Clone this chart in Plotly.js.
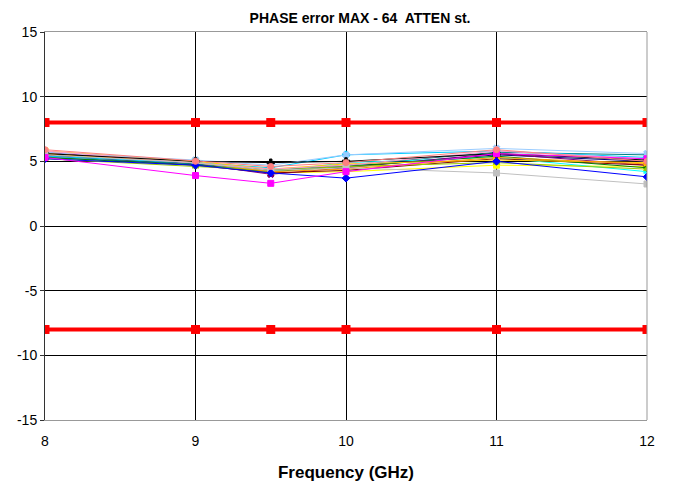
<!DOCTYPE html>
<html>
<head>
<meta charset="utf-8">
<script src="https://cdn.plot.ly/plotly-3.0.1.min.js"></script>
<style>html,body{margin:0;padding:0;background:#fff;}#chart{width:673px;height:483px;}</style>
</head>
<body>
<div id="chart"></div>
<script>
const freqs = [8, 9, 9.5, 10, 11, 12];
const xTickVals = [8, 9, 10, 11, 12];
const xTickText = ['8', '9', '10', '11', '12'];
const yTickVals = [-15, -10, -5, 0, 5, 10, 15];
const yTickText = ['-15', '-10', '-5', '0', '5', '10', '15'];
const limitUpper = [8, 8, 8, 8, 8, 8];
const limitLower = [-8, -8, -8, -8, -8, -8];

const sNavy      = [5.4, 4.9, 4.3, 4.6, 5.5, 5.0];
const sMagenta   = [5.3, 3.9, 3.3, 4.2, 5.6, 5.2];
const sYellow    = [5.6, 4.9, 4.1, 4.2, 4.7, 4.6];
const sCyan      = [5.5, 4.8, 4.2, 4.9, 5.3, 4.2];
const sPurple    = [5.7, 4.8, 4.0, 4.5, 5.6, 4.7];
const sMaroon    = [5.5, 4.7, 4.1, 4.3, 5.2, 4.7];
const sTeal      = [5.3, 4.8, 4.3, 4.7, 5.7, 5.5];
const sBlue      = [5.2, 4.7, 4.1, 3.7, 5.0, 3.8];
const sSky       = [5.4, 4.9, 4.5, 5.5, 5.8, 5.3];
const sBlack     = [5.6, 5.0, 4.9, 5.0, 5.6, 5.1];
const sGray      = [5.5, 4.9, 4.3, 4.5, 4.1, 3.25];
const sSalmon    = [5.9, 5.0, 4.6, 4.9, 5.9, 5.0];
const sGreen     = [5.3, 4.7, 4.2, 4.6, 5.4, 4.5];
const sGold      = [5.8, 5.0, 4.4, 4.8, 5.1, 4.9];
const sLime      = [5.2, 4.6, 4.3, 4.6, 4.9, 4.4];
const sLightBlue = [5.7, 5.1, 4.7, 5.5, 6.0, 5.6];
const sOrange    = [5.6, 4.9, 4.2, 4.4, 5.3, 4.8];
const sPink      = [5.8, 4.9, 4.4, 4.7, 5.8, 5.2];

const seriesList = [
  [sNavy, '#000080', 'diamond'],
  [sYellow, '#FFFF00', 'square'],
  [sCyan, '#00FFFF', 'triangle-up'],
  [sPurple, '#800080', 'x'],
  [sMaroon, '#800000', 'asterisk'],
  [sTeal, '#008080', 'circle'],
  [sSky, '#00CCFF', 'cross'],
  [sGreen, '#008000', 'diamond'],
  [sGold, '#FFCC00', 'square'],
  [sLime, '#99CC00', 'triangle-up'],
  [sLightBlue, '#99CCFF', 'x'],
  [sOrange, '#FF9900', 'asterisk'],
  [sPink, '#FF99CC', 'circle'],
  [sBlack, '#000000', 'cross'],
  [sGray, '#C0C0C0', 'square'],
  [sBlue, '#0000FF', 'diamond'],
  [sMagenta, '#FF00FF', 'square'],
  [sSalmon, '#FF8080', 'circle']
];

const traces = seriesList.map(([vals, color, sym]) => ({
  x: freqs, y: vals, type: 'scatter', mode: 'lines+markers',
  line: {color: color, width: 1},
  marker: {color: color, symbol: sym, size: 6, line: {color: color, width: 1}},
  showlegend: false, hoverinfo: 'skip'
}));

[limitUpper, limitLower].forEach(v => traces.push({
  x: freqs, y: v, type: 'scatter', mode: 'lines+markers',
  line: {color: '#FF0000', width: 4},
  marker: {color: '#FF0000', symbol: 'square', size: 9},
  showlegend: false, hoverinfo: 'skip'
}));

const layout = {
  width: 673, height: 483,
  margin: {l: 45, r: 26, t: 32, b: 63},
  paper_bgcolor: '#fff', plot_bgcolor: '#fff',
  font: {family: 'Liberation Sans, Arial, sans-serif', color: '#000', size: 13},
  title: {text: 'PHASE error MAX - 64  ATTEN st.', x: 0.535, xanchor: 'center', y: 0.962, yanchor: 'middle',
          font: {size: 14, family: 'Liberation Sans, Arial, sans-serif', weight: 'bold'}},
  xaxis: {
    range: [8, 12], tickvals: xTickVals, ticktext: xTickText,
    showgrid: true, gridcolor: '#000', gridwidth: 1,
    showline: true, linecolor: '#999', linewidth: 1, mirror: true,
    ticks: '', ticklen: 0, zeroline: false, ticklabelstandoff: 8,
    tickfont: {size: 14}, automargin: false,
    title: {text: 'Frequency (GHz)', standoff: 18, font: {size: 17, weight: 'bold'}}
  },
  yaxis: {
    range: [-15, 15], tickvals: yTickVals, ticktext: yTickText,
    showgrid: true, gridcolor: '#000', gridwidth: 1,
    zeroline: true, zerolinecolor: '#000', zerolinewidth: 1,
    showline: true, linecolor: '#333', linewidth: 1, mirror: false,
    ticks: 'outside', ticklen: 4, tickcolor: '#333',
    tickfont: {size: 14}, automargin: false
  },
  shapes: [{type: 'line', xref: 'paper', yref: 'paper', x0: 1, x1: 1, y0: 0, y1: 1,
            line: {color: '#999', width: 1}}]
};

Plotly.newPlot('chart', traces, layout, {displayModeBar: false, staticPlot: true});
</script>
</body>
</html>
